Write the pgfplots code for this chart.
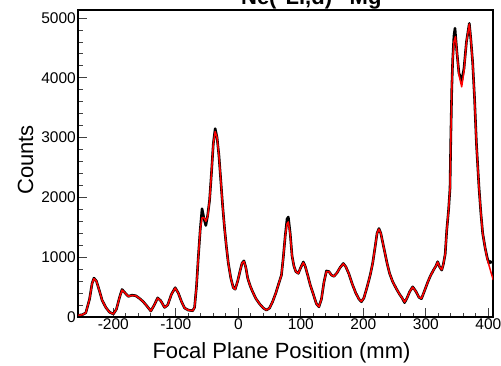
\documentclass[border=0pt]{standalone}
\usepackage{fontspec}
\setmainfont{Liberation Sans}
\usepackage{pgfplots}
\pgfplotsset{compat=1.18}
\begin{document}
\begin{tikzpicture}
\path[use as bounding box] (0pt,0pt) rectangle (501pt,365pt);
\begin{axis}[
 at={(78pt,48pt)}, anchor=south west,
 scale only axis, width=415pt, height=307pt,
 xmin=-256.5, xmax=407.5, ymin=0, ymax=5134,
 axis line style={line width=1.5pt},
 xtick={-200,-100,...,400}, ytick={0,1000,...,5000},
 minor x tick num=4, minor y tick num=4,
 tick pos=left,
 tick align=inside,
 major tick length=9pt, minor tick length=4.5pt,
 every tick/.style={black!75, line width=0.8pt},
 tick label style={font=\fontsize{15.5}{18}\selectfont},
 /pgf/number format/assume math mode=true,
 /pgf/number format/1000 sep={},
 scaled y ticks=false,
 xticklabel style={inner sep=1pt},
 yticklabel style={inner sep=2pt},
]
\addplot[black, line width=2.6pt, line join=round] coordinates {
(-256,30) (-250,35) (-244,70) (-238,300) (-234,560) (-231,650) (-227,600) (-222,430) (-218,283) (-212,160) (-206,80) (-200,50) (-195,130) (-190,330) (-186,460) (-181,400) (-176,345) (-170,365) (-164,355) (-158,310) (-152,255) (-146,180) (-140,100) (-135,190) (-129,320) (-124,270) (-118,160) (-113,200) (-107,380) (-101,490) (-96,400) (-91,260) (-86,150) (-80,115) (-73,105) (-70,160) (-67,500) (-64,1000) (-61,1450) (-58,1810) (-55,1650) (-52,1530) (-49,1700) (-46,1950) (-43,2400) (-40,2900) (-37,3150) (-34,3000) (-31,2700) (-28,2280) (-25,1850) (-22,1480) (-19,1170) (-16,900) (-12,650) (-8,490) (-5,465) (-1,600) (3,780) (6,900) (9,940) (12,830) (15,650) (19,520) (23,420) (28,310) (34,220) (40,150) (45,115) (50,150) (55,260) (60,400) (65,570) (69,700) (72,1000) (75,1350) (78,1640) (80,1672) (83,1400) (86,1020) (89,850) (92,760) (96,730) (100,830) (104,920) (107,850) (111,700) (115,540) (120,380) (125,220) (129,170) (133,300) (137,580) (141,770) (145,760) (149,700) (153,680) (158,740) (163,830) (168,895) (172,840) (177,720) (182,560) (188,400) (193,300) (197,255) (201,320) (206,500) (211,700) (215,900) (219,1180) (222,1400) (225,1480) (228,1400) (231,1250) (234,1100) (238,900) (242,730) (247,590) (253,470) (258,380) (262,320) (266,240) (270,320) (274,420) (279,505) (284,430) (289,330) (293,305) (298,440) (303,580) (307,680) (312,780) (316,850) (319,925) (322,840) (325.5,785) (328,880) (331,1050) (333.5,1450) (336.5,1800) (338.7,2150) (340,3000) (341.5,3800) (343,4300) (345,4700) (346.7,4830) (348,4650) (350,4400) (353,4080) (357.4,3950) (361,4150) (365,4600) (369.6,4910) (372,4650) (375,4250) (378,3650) (381,2900) (385,2180) (388,1750) (391,1400) (395,1150) (398.5,980) (401,900) (403,930) (405.5,900)
};
\addplot[red, line width=1.5pt, line join=round] coordinates {
(-256,30) (-250,35) (-244,70) (-238,300) (-234,560) (-231,640) (-227,600) (-222,430) (-218,283) (-212,160) (-206,80) (-200,50) (-195,130) (-190,330) (-186,450) (-181,400) (-176,345) (-170,360) (-164,355) (-158,310) (-152,255) (-146,180) (-140,100) (-135,190) (-129,315) (-124,270) (-118,160) (-113,200) (-107,380) (-101,485) (-96,400) (-91,260) (-86,150) (-80,115) (-73,105) (-70,160) (-67,500) (-64,1000) (-61,1450) (-58,1660) (-55,1660) (-52,1600) (-49,1680) (-46,1950) (-43,2400) (-40,2900) (-37,3100) (-34,3000) (-31,2700) (-28,2280) (-25,1850) (-22,1480) (-19,1170) (-16,900) (-12,650) (-8,490) (-5,465) (-1,600) (3,780) (6,900) (9,930) (12,830) (15,650) (19,520) (23,420) (28,310) (34,220) (40,150) (45,115) (50,150) (55,260) (60,400) (65,570) (69,700) (72,1000) (75,1350) (78,1560) (80,1590) (83,1380) (86,1020) (89,850) (92,760) (96,730) (100,830) (104,910) (107,850) (111,700) (115,540) (120,380) (125,220) (129,170) (133,300) (137,580) (141,760) (145,760) (149,700) (153,680) (158,740) (163,830) (168,890) (172,840) (177,720) (182,560) (188,400) (193,300) (197,260) (201,320) (206,500) (211,700) (215,900) (219,1180) (222,1400) (225,1470) (228,1400) (231,1250) (234,1100) (238,900) (242,730) (247,590) (253,470) (258,380) (262,320) (266,250) (270,320) (274,420) (279,500) (284,430) (289,330) (293,310) (298,440) (303,580) (307,680) (312,780) (316,850) (319,920) (322,840) (325.5,790) (328,880) (331,1050) (333.5,1450) (336.5,1800) (338.7,2150) (340,3000) (341.5,3800) (343,4300) (345,4600) (347.4,4690) (350,4400) (353,4050) (357.4,3850) (361,4100) (365,4600) (369.6,4900) (372,4650) (375,4250) (378,3650) (381,2900) (385,2180) (388,1750) (391,1400) (395,1150) (398.5,960) (402,830) (405,720) (408,620)
};
\end{axis}
\node[anchor=base east, font=\fontsize{22}{26}\selectfont\bfseries] at (385pt,360pt) {\textsuperscript{20}Ne(\textsuperscript{6}Li,d)\textsuperscript{24}Mg};
\node[anchor=base, font=\fontsize{22}{26}\selectfont] at (281.5pt,7pt) {Focal Plane Position (mm)};
\node[anchor=base, rotate=90, font=\fontsize{22}{26}\selectfont] at (33pt,205pt) {Counts};
\end{tikzpicture}
\end{document}
